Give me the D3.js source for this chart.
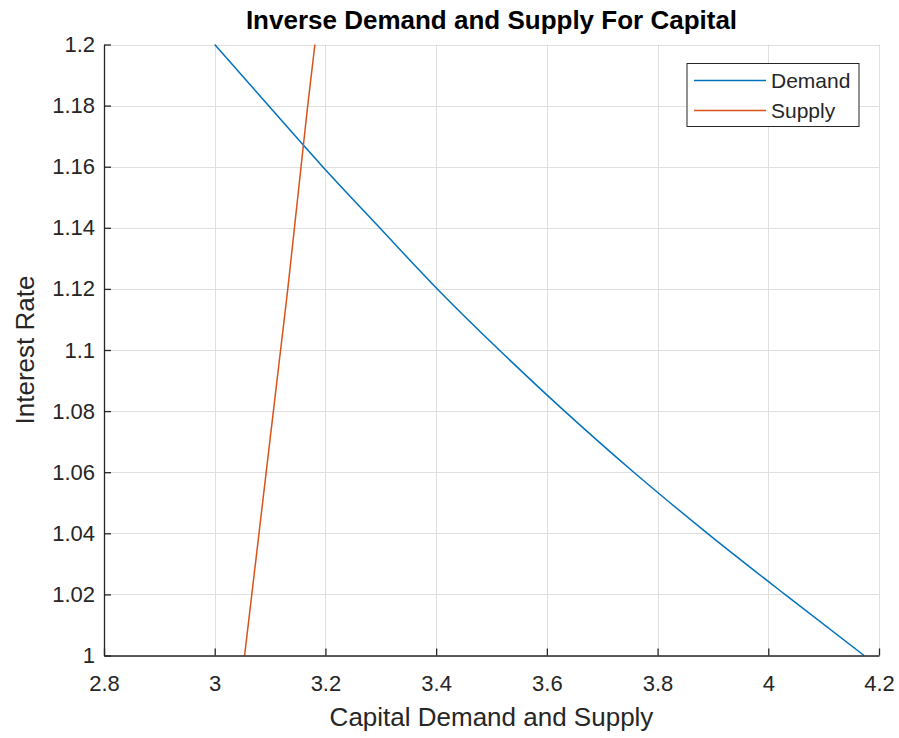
<!DOCTYPE html>
<html>
<head>
<meta charset="utf-8">
<script src="https://cdn.jsdelivr.net/npm/d3@7"></script>
<style>
  body { margin: 0; background: #fff; }
  svg { font-family: "Liberation Sans", Arial, Helvetica, sans-serif; }
</style>
</head>
<body>
<svg id="chart" width="899" height="738"></svg>
<script>
// interest rate levels (y) shared by both curves
var rates = [1.00, 1.02, 1.04, 1.06, 1.08, 1.10, 1.12, 1.14, 1.16, 1.18, 1.20];
// capital demanded at each rate
var demand = [4.173, 4.030, 3.890, 3.757, 3.632, 3.514, 3.402, 3.298, 3.195, 3.097, 3.000];
// capital supplied at each rate
var supply = [3.054, 3.067, 3.080, 3.093, 3.106, 3.119, 3.132, 3.144, 3.156, 3.168, 3.181];

var xTicks = [2.8, 3, 3.2, 3.4, 3.6, 3.8, 4, 4.2];
var yTicks = [1, 1.02, 1.04, 1.06, 1.08, 1.1, 1.12, 1.14, 1.16, 1.18, 1.2];

var seriesNames = ["Demand", "Supply"];
var seriesColors = ["#0072BD", "#D95319"];

var svg = d3.select("#chart");
var m = { left: 104, right: 879, top: 44.5, bottom: 655.5 };

var x = d3.scaleLinear().domain([2.8, 4.2]).range([m.left, m.right]);
var y = d3.scaleLinear().domain([1, 1.2]).range([m.bottom, m.top]);
var fmt = d3.format("~g");

// grid
var grid = svg.append("g").attr("stroke", "#dfdfdf").attr("stroke-width", 1);
grid.selectAll(".gx").data(xTicks).enter().append("line")
  .attr("x1", d => Math.round(x(d)) + 0.5).attr("x2", d => Math.round(x(d)) + 0.5)
  .attr("y1", m.top).attr("y2", m.bottom);
grid.selectAll(".gy").data(yTicks).enter().append("line")
  .attr("y1", d => Math.round(y(d)) + 0.5).attr("y2", d => Math.round(y(d)) + 0.5)
  .attr("x1", m.left).attr("x2", m.right);

// curves
var data = [demand, supply];
var line = d3.line()
  .x(d => x(d[0]))
  .y(d => y(d[1]))
  .curve(d3.curveMonotoneY);

data.forEach(function(vals, i) {
  svg.append("path")
    .datum(vals.map((v, j) => [v, rates[j]]))
    .attr("fill", "none")
    .attr("stroke", seriesColors[i])
    .attr("stroke-width", 1.5)
    .attr("d", line);
});

// axes (ticks inward, MATLAB style)
var xAxis = svg.append("g")
  .attr("transform", "translate(0," + m.bottom + ")")
  .call(d3.axisBottom(x).tickValues(xTicks).tickFormat(fmt).tickSizeInner(-7).tickSizeOuter(0).tickPadding(20));
var yAxis = svg.append("g")
  .attr("transform", "translate(" + m.left + ",0)")
  .call(d3.axisLeft(y).tickValues(yTicks).tickFormat(fmt).tickSizeInner(-7).tickSizeOuter(0).tickPadding(9));

[xAxis, yAxis].forEach(function(a) {
  a.select(".domain").attr("stroke", "#262626").attr("stroke-width", 1.3);
  a.selectAll(".tick line").attr("stroke", "#262626").attr("stroke-width", 1.3);
  a.selectAll(".tick text")
    .attr("fill", "#262626")
    .style("font-size", "22px")
    .style("font-family", "Liberation Sans, Arial, sans-serif");
});

// title and labels
svg.append("text")
  .attr("x", (m.left + m.right) / 2).attr("y", 29)
  .attr("text-anchor", "middle")
  .style("font-size", "26px").style("font-weight", "bold")
  .attr("fill", "#000")
  .text("Inverse Demand and Supply For Capital");

svg.append("text")
  .attr("x", (m.left + m.right) / 2).attr("y", 726)
  .attr("text-anchor", "middle")
  .style("font-size", "26px")
  .attr("fill", "#262626")
  .text("Capital Demand and Supply");

svg.append("text")
  .attr("transform", "translate(34," + ((m.top + m.bottom) / 2) + ") rotate(-90)")
  .attr("text-anchor", "middle")
  .style("font-size", "26px")
  .attr("fill", "#262626")
  .text("Interest Rate");

// legend
var lg = svg.append("g").attr("transform", "translate(687,63.5)");
lg.append("rect")
  .attr("width", 172).attr("height", 63)
  .attr("fill", "#fff").attr("stroke", "#262626").attr("stroke-width", 1);
seriesNames.forEach(function(name, i) {
  var ly = 17 + i * 30;
  lg.append("line")
    .attr("x1", 7).attr("x2", 79).attr("y1", ly).attr("y2", ly)
    .attr("stroke", seriesColors[i]).attr("stroke-width", 1.5);
  lg.append("text")
    .attr("x", 84).attr("y", ly + 7.5)
    .style("font-size", "21px")
    .attr("fill", "#262626")
    .text(name);
});
</script>
</body>
</html>
